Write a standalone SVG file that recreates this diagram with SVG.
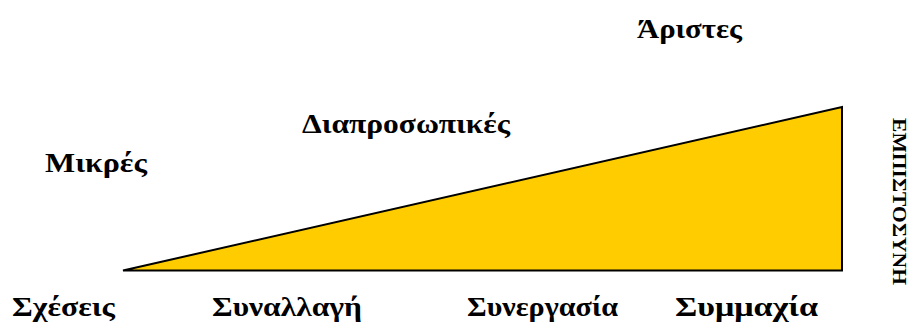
<svg xmlns="http://www.w3.org/2000/svg" width="911" height="327" viewBox="0 0 911 327">
<style>
.t{font-family:"Liberation Serif","Times New Roman",serif;font-weight:bold;font-size:28px;fill:#000}
.v{font-family:"Liberation Serif","Times New Roman",serif;font-weight:bold;font-size:19px;fill:#000}
</style>
<rect width="911" height="327" fill="#fff"/>
<g id="wedge">
<polygon points="123,270.5 842,270.5 842,107" fill="#FFCC00" stroke="#000" stroke-width="2" stroke-linejoin="miter"/>
</g>
<g id="labels">
<text class="t" x="302" y="133" textLength="208" lengthAdjust="spacingAndGlyphs">Διαπροσωπικές</text>
<text class="t" x="45" y="172" textLength="102" lengthAdjust="spacingAndGlyphs">Μικρές</text>
<text class="t" x="637" y="38" textLength="105" lengthAdjust="spacingAndGlyphs">Άριστες</text>
<text class="t" x="12" y="316" textLength="103" lengthAdjust="spacingAndGlyphs">Σχέσεις</text>
<text class="t" x="212" y="316" textLength="150" lengthAdjust="spacingAndGlyphs">Συναλλαγή</text>
<text class="t" x="467" y="316" textLength="151" lengthAdjust="spacingAndGlyphs">Συνεργασία</text>
<text class="t" x="675" y="316" textLength="143" lengthAdjust="spacingAndGlyphs">Συμμαχία</text>
<text class="v" transform="translate(893,118) rotate(90)" textLength="167" lengthAdjust="spacingAndGlyphs">ΕΜΠΙΣΤΟΣΥΝΗ</text>
</g>
</svg>
